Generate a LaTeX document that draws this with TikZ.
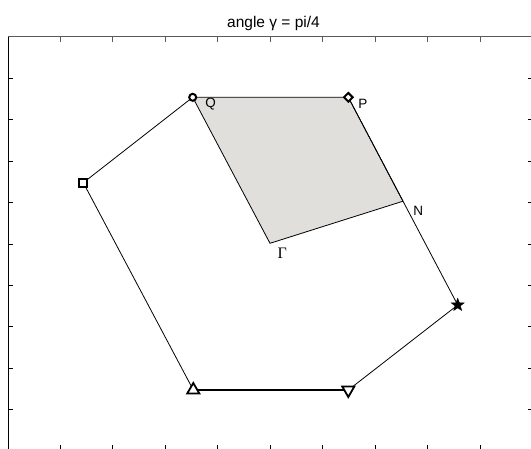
\documentclass[tikz,border=0pt]{standalone}
\usepackage{fontspec}
\setmainfont{Liberation Sans}
\newfontfamily\seriffont{Liberation Serif}
\usetikzlibrary{shapes.geometric}
\definecolor{shade}{RGB}{224,223,219}
\definecolor{axgray}{RGB}{90,90,90}
\tikzset{
  edge/.style={draw=black, line width=0.8pt},
  mk/.style={draw=black, line width=2pt, inner sep=0pt, fill=white},
  mkcirc/.style={mk, circle, minimum size=7pt},
  mksq/.style={mk, rectangle, minimum size=8pt, line width=2.2pt},
  mkdia/.style={mk, diamond, minimum size=9.5pt},
  mktri/.style={mk, regular polygon, regular polygon sides=3, minimum size=14pt, line width=1.8pt},
  mkstar/.style={draw=black, fill=black, star, star points=5, star point ratio=2.4, minimum size=13.5pt, inner sep=0pt},
  lbl/.style={font=\fontsize{13.5}{13.5}\selectfont, inner sep=0pt},
  tick/.style={line width=0.8pt},
}
\begin{document}
\begin{tikzpicture}[x=1pt,y=-1pt]
\useasboundingbox (0,0) rectangle (531,449);
\fill[white] (0,0) rectangle (531,449);
% axes
\draw[axgray, line width=1pt] (8,37) -- (531,37);
\draw[black, line width=1pt] (8,37) -- (8,449);
\foreach \i in {0,...,8} {
  \draw[tick, axgray] ({60.3+52.5*\i},37) -- ({60.3+52.5*\i},42);
  \draw[tick] ({60.3+52.5*\i},449) -- ({60.3+52.5*\i},445);
}
\foreach \j in {1,...,9} {
  \draw[tick] (8,{37+41.4*\j}) -- (13,{37+41.4*\j});
  \draw[tick] (531,{37+41.4*\j}) -- (528,{37+41.4*\j});
}
% points
\coordinate (Q) at (192.7,97.3);
\coordinate (P) at (348.3,97.3);
\coordinate (S) at (83.3,182.7);
\coordinate (TU) at (193.3,390);
\coordinate (TD) at (348.3,390);
\coordinate (ST) at (457.7,305);
\coordinate (N) at (403,201.2);
\coordinate (G) at (270,243.3);
% shaded region
\filldraw[fill=shade, edge] (Q) -- (P) -- (N) -- (G) -- cycle;
% hexagon edges
\draw[edge] (S) -- (Q);
\draw[edge] (P) -- (N) -- (ST);
\draw[edge] (ST) -- (TD);
\draw[edge, line width=1.1pt] (TD) -- (TU);
\draw[edge] (TU) -- (S);
% markers
\node[mkcirc] (mQ) at (Q) {};
\node[mkdia] (mP) at (P) {};
\node[mksq] (mS) at (S) {};
\node[mktri] (mTU) at (TU) {};
\node[mktri, shape border rotate=180] (mTD) at (TD) {};
\node[mkstar] (mST) at (ST) {};
% labels
\node[lbl] (lQ) at (210.7,104) {Q};
\node[lbl] (lP) at (362.8,103.5) {P};
\node[lbl] (lN) at (418.3,210.5) {N};
\node[lbl, font=\seriffont\fontsize{16}{16}\selectfont] (lG) at (282.3,253) {Γ};
\node[font=\fontsize{15.5}{15.5}\selectfont, inner sep=0pt, anchor=base] (title) at (273.5,28) {angle γ = pi/4};
\end{tikzpicture}
\end{document}
